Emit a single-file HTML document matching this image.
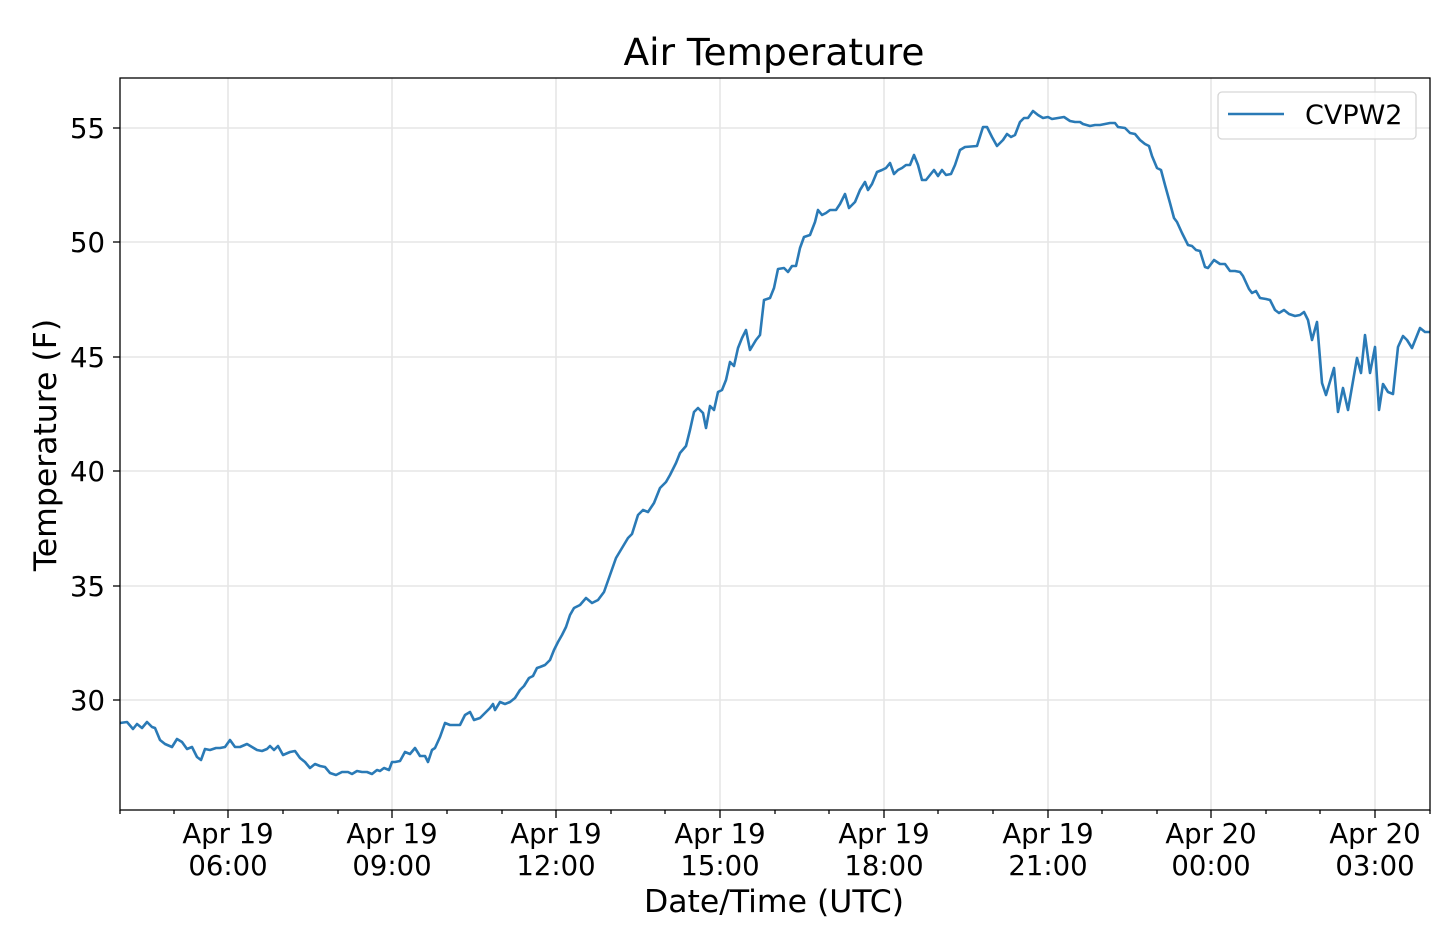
<!DOCTYPE html>
<html><head><meta charset="utf-8"><style>
body{margin:0;background:#fff;}
svg{display:block;font-family:"DejaVu Sans","Liberation Sans",sans-serif;}
</style></head><body>
<svg width="1440" height="939" viewBox="0 0 1440 939">
<rect width="1440" height="939" fill="#fff"/>
<g stroke="#e6e6e6" stroke-width="1.6">
<line x1="228" y1="78" x2="228" y2="810"/><line x1="392" y1="78" x2="392" y2="810"/>
<line x1="556" y1="78" x2="556" y2="810"/><line x1="720" y1="78" x2="720" y2="810"/>
<line x1="884" y1="78" x2="884" y2="810"/><line x1="1048" y1="78" x2="1048" y2="810"/>
<line x1="1211" y1="78" x2="1211" y2="810"/><line x1="1375" y1="78" x2="1375" y2="810"/>
<line x1="120" y1="128" x2="1430" y2="128"/><line x1="120" y1="242" x2="1430" y2="242"/>
<line x1="120" y1="357" x2="1430" y2="357"/><line x1="120" y1="471" x2="1430" y2="471"/>
<line x1="120" y1="586" x2="1430" y2="586"/><line x1="120" y1="700" x2="1430" y2="700"/>
</g>
<polyline fill="none" stroke="#2a7ab6" stroke-width="2.6" stroke-linejoin="round" points="120,723 127,722 133,729 137,724 142,728 147,722 152,727 155,728 160,740 165,744 172,747 177,739 182,742 187,749 192,747 197,757 201,760 205,749 210,750 216,748 220,748 225,747 230,740 235,747 240,747 247,744 252,747 257,750 262,751 267,749 270,746 274,750 278,746 283,755 290,752 295,751 300,758 305,762 310,768 315,764 320,766 325,767 330,773 336,775 342,772 348,772 352,774 357,771 362,772 367,772 372,774 377,770 380,771 384,768 389,770 392,762 395,762 400,761 405,752 410,754 415,748 420,756 425,756 428,762 432,750 435,748 440,737 445,723 450,725 455,725 460,725 465,715 470,712 474,720 480,718 486,712 490,708 493,704 495,710 500,702 505,704 510,702 515,698 520,690 524,686 529,678 533,676 537,668 540,667 545,665 550,660 554,650 558,642 562,635 566,627 570,615 574,608 580,605 586,598 592,603 598,600 604,592 610,575 616,558 622,548 628,538 632,534 638,515 643,510 648,512 654,503 660,488 666,482 670,475 676,463 680,453 686,446 690,430 694,412 698,408 703,413 706,428 710,406 714,410 718,392 722,390 726,380 730,362 734,366 738,348 742,338 746,330 750,350 756,340 760,335 764,300 770,298 774,288 778,269 784,268 788,272 792,266 796,266 800,248 804,237 810,235 815,222 818,210 822,215 826,213 830,210 836,210 840,204 845,194 849,208 855,202 860,190 865,182 868,190 872,184 877,172 882,170 886,168 890,163 894,174 898,170 902,168 906,165 910,165 914,155 918,165 922,180 926,180 930,175 934,170 938,176 942,170 946,175 951,174 955,165 960,150 965,147 977,146 983,127 987,127 992,137 997,146 1003,140 1007,134 1011,137 1015,135 1020,122 1024,118 1028,118 1033,111 1038,115 1043,118 1048,117 1052,119 1058,118 1064,117 1070,121 1075,122 1080,122 1083,124 1090,126 1095,125 1100,125 1105,124 1110,123 1115,123 1118,127 1125,128 1130,133 1135,134 1140,140 1145,144 1149,146 1152,156 1157,168 1161,170 1165,185 1170,203 1174,218 1177,222 1182,233 1188,245 1192,246 1196,250 1200,251 1205,267 1208,268 1214,260 1220,264 1225,264 1230,271 1235,271 1240,272 1243,276 1249,289 1252,293 1256,291 1260,298 1266,299 1270,300 1275,310 1279,313 1284,310 1289,314 1295,316 1300,315 1304,312 1308,320 1312,340 1317,322 1322,383 1326,395 1334,368 1338,412 1343,388 1348,410 1357,358 1361,373 1365,335 1370,373 1375,347 1379,410 1383,384 1388,392 1393,394 1398,347 1403,336 1407,340 1412,348 1420,328 1425,332 1430,332"/>
<rect x="120" y="78" width="1310" height="732" fill="none" stroke="#000" stroke-width="1.3"/>
<g stroke="#000" stroke-width="1.3">
<line x1="113" y1="128" x2="120" y2="128"/><line x1="113" y1="242" x2="120" y2="242"/>
<line x1="113" y1="357" x2="120" y2="357"/><line x1="113" y1="471" x2="120" y2="471"/>
<line x1="113" y1="586" x2="120" y2="586"/><line x1="113" y1="700" x2="120" y2="700"/>
<line x1="228" y1="810" x2="228" y2="818"/><line x1="392" y1="810" x2="392" y2="818"/>
<line x1="556" y1="810" x2="556" y2="818"/><line x1="720" y1="810" x2="720" y2="818"/>
<line x1="884" y1="810" x2="884" y2="818"/><line x1="1048" y1="810" x2="1048" y2="818"/>
<line x1="1211" y1="810" x2="1211" y2="818"/><line x1="1375" y1="810" x2="1375" y2="818"/>
<line x1="120" y1="810" x2="120" y2="814"/><line x1="174" y1="810" x2="174" y2="814"/><line x1="283" y1="810" x2="283" y2="814"/><line x1="338" y1="810" x2="338" y2="814"/><line x1="447" y1="810" x2="447" y2="814"/><line x1="502" y1="810" x2="502" y2="814"/><line x1="611" y1="810" x2="611" y2="814"/><line x1="665" y1="810" x2="665" y2="814"/><line x1="775" y1="810" x2="775" y2="814"/><line x1="829" y1="810" x2="829" y2="814"/><line x1="938" y1="810" x2="938" y2="814"/><line x1="993" y1="810" x2="993" y2="814"/><line x1="1102" y1="810" x2="1102" y2="814"/><line x1="1157" y1="810" x2="1157" y2="814"/><line x1="1266" y1="810" x2="1266" y2="814"/><line x1="1320" y1="810" x2="1320" y2="814"/><line x1="1430" y1="810" x2="1430" y2="814"/>
</g>
<g font-size="27.5" fill="#000" text-anchor="end">
<text x="105" y="138">55</text><text x="105" y="252">50</text><text x="105" y="367">45</text>
<text x="105" y="481">40</text><text x="105" y="596">35</text><text x="105" y="710">30</text>
</g>
<g font-size="27.5" fill="#000" text-anchor="middle">
<text x="228" y="843">Apr 19</text><text x="228" y="875">06:00</text>
<text x="392" y="843">Apr 19</text><text x="392" y="875">09:00</text>
<text x="556" y="843">Apr 19</text><text x="556" y="875">12:00</text>
<text x="720" y="843">Apr 19</text><text x="720" y="875">15:00</text>
<text x="884" y="843">Apr 19</text><text x="884" y="875">18:00</text>
<text x="1048" y="843">Apr 19</text><text x="1048" y="875">21:00</text>
<text x="1211" y="843">Apr 20</text><text x="1211" y="875">00:00</text>
<text x="1375" y="843">Apr 20</text><text x="1375" y="875">03:00</text>
</g>
<text x="774" y="912" font-size="31.5" text-anchor="middle">Date/Time (UTC)</text>
<text transform="translate(56,445) rotate(-90)" font-size="31.5" text-anchor="middle">Temperature (F)</text>
<text x="774" y="65" font-size="37.5" text-anchor="middle">Air Temperature</text>
<rect x="1218" y="92" width="198" height="47" rx="4" fill="#fff" fill-opacity="0.8" stroke="#d6d6d6" stroke-width="1.3"/>
<line x1="1228" y1="114" x2="1284" y2="114" stroke="#2a7ab6" stroke-width="2.6"/>
<text x="1305" y="124" font-size="27">CVPW2</text>
</svg>
</body></html>
